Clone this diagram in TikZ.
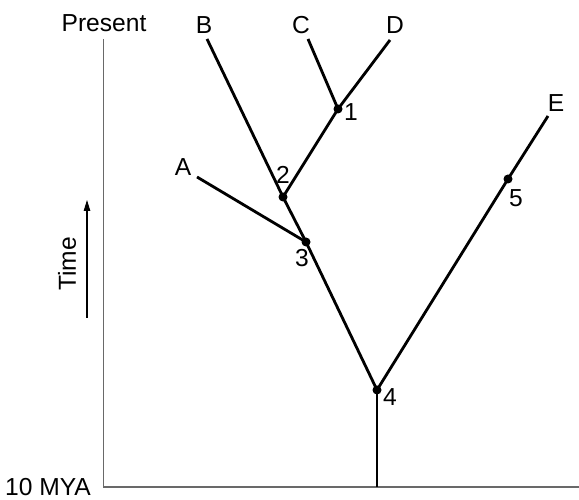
\documentclass[tikz,border=0pt]{standalone}
\usepackage{fontspec}
\setmainfont{Liberation Sans}
\definecolor{axgray}{RGB}{105,105,105}
\usetikzlibrary{arrows.meta,positioning}

\begin{document}
\begin{tikzpicture}[
  treeline/.style={line width=1.6pt,black},
  axisline/.style={line width=1.1pt,axgray},
  forkdot/.style={circle,fill=black,inner sep=0pt,minimum size=0.18cm},
  treelbl/.style={font=\fontsize{14}{16}\selectfont,inner sep=0pt}
]
  \useasboundingbox (0,0) rectangle (11.58,10);
  % time axis
  \coordinate (axtop) at (2.07,9.22);
  \coordinate (axorig) at (2.07,0.26);
  \coordinate (axend) at (11.58,0.26);
  \draw[axisline] (axtop) -- (axorig) -- (axend);
  \node[treelbl] (present) at (2.08,9.54) {Present};
  \node[treelbl] (mya) at (0.96,0.25) {10 MYA};
  \coordinate (tlow) at (1.74,3.64);
  \coordinate (thigh) at (1.74,6.0);
  \draw[line width=0.6pt,-{Triangle[length=0.22cm,width=0.13cm]}] (tlow) -- (thigh);
  \node[treelbl,rotate=90] (time) at (1.34,4.72) {Time};
  % branch points
  \coordinate (root) at (7.54,0.26);
  \node[forkdot] (n4) at (7.54,2.2) {};
  \node[forkdot] (n3) at (6.12,5.16) {};
  \node[forkdot] (n2) at (5.66,6.06) {};
  \node[forkdot] (n1) at (6.76,7.82) {};
  \node[forkdot] (n5) at (10.16,6.42) {};
  % tips
  \coordinate (tipA) at (3.94,6.46);
  \coordinate (tipB) at (4.14,9.22);
  \coordinate (tipC) at (6.16,9.22);
  \coordinate (tipD) at (7.8,9.2);
  \coordinate (tipE) at (10.96,7.68);
  % branches
  \draw[treeline] (root) -- (n4.center);
  \draw[treeline] (n4.center) -- (n3.center) -- (n2.center) -- (tipB);
  \draw[treeline] (n3.center) -- (tipA);
  \draw[treeline] (n2.center) -- (n1.center) -- (tipD);
  \draw[treeline] (n1.center) -- (tipC);
  \draw[treeline] (n4.center) -- (n5.center) -- (tipE);
  % labels
  \node[treelbl] (lA) at (3.66,6.66) {A};
  \node[treelbl] (lB) at (4.08,9.5) {B};
  \node[treelbl] (lC) at (6.02,9.5) {C};
  \node[treelbl] (lD) at (7.9,9.5) {D};
  \node[treelbl] (lE) at (11.12,7.94) {E};
  \node[treelbl] (l1) at (7.02,7.76) {1};
  \node[treelbl] (l2) at (5.66,6.5) {2};
  \node[treelbl] (l3) at (6.04,4.84) {3};
  \node[treelbl] (l4) at (7.8,2.06) {4};
  \node[treelbl] (l5) at (10.32,6.04) {5};
\end{tikzpicture}
\end{document}
